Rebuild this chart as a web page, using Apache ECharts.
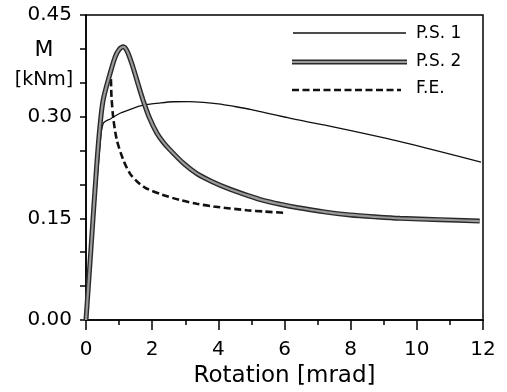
<!DOCTYPE html>
<html><head><meta charset="utf-8">
<script src="https://cdn.jsdelivr.net/npm/echarts@6/dist/echarts.min.js"></script>
<style>html,body{margin:0;padding:0;background:#fff}#c{width:507px;height:392px}</style>
</head><body><div id="c"></div>
<script>
const xTicks = [0, 2, 4, 6, 8, 10, 12];
const yTicks = [0.00, 0.15, 0.30, 0.45];
const seriesNames = ['P.S. 1', 'P.S. 2', 'F.E.'];
const ps1 = [[0,0],[0.2,0.123],[0.42,0.256],[0.52,0.290],[0.75,0.297],[1.03,0.305],[1.4,0.312],[1.73,0.317],[2.2,0.320],[2.64,0.322],[3.1,0.3222],[3.55,0.3212],[4.0,0.319],[4.5,0.315],[5.0,0.3105],[5.5,0.305],[6.0,0.2995],[6.37,0.2955],[7.47,0.285],[8.98,0.269],[10.5,0.251],[11.94,0.233]];
const ps2 = [[0,0],[0.15,0.105],[0.32,0.226],[0.42,0.285],[0.52,0.325],[0.73,0.364],[0.88,0.388],[1.0,0.399],[1.13,0.403],[1.25,0.396],[1.42,0.373],[1.58,0.347],[1.72,0.325],[1.92,0.298],[2.14,0.276],[2.34,0.262],[2.54,0.251],[2.95,0.231],[3.35,0.216],[3.8,0.2045],[4.35,0.193],[4.9,0.1835],[5.36,0.1765],[5.9,0.1705],[6.37,0.166],[7.2,0.1595],[7.98,0.155],[8.8,0.152],[9.49,0.150],[10.7,0.148],[11.9,0.146]];
const fe = [[0,0],[0.32,0.226],[0.52,0.325],[0.73,0.362],[0.77,0.330],[0.82,0.300],[0.93,0.266],[1.13,0.236],[1.33,0.216],[1.55,0.204],[1.83,0.194],[2.3,0.185],[2.84,0.177],[3.35,0.1715],[3.85,0.1675],[4.86,0.162],[5.4,0.160],[6.02,0.158]];

const chart = echarts.init(document.getElementById('c'), null, {renderer: 'canvas'});
const font = 'DejaVu Sans, sans-serif';
chart.setOption({
  animation: false,
  backgroundColor: '#fff',
  grid: {left: 86, right: 24, top: 15, bottom: 72, show: true, borderColor: '#000', borderWidth: 1.5, backgroundColor: 'transparent', containLabel: false, outerBoundsMode: 'none'},
  xAxis: {
    type: 'value', min: 0, max: 12, interval: 2,
    axisLine: {show: true, onZero: false, lineStyle: {color: '#000', width: 1.5}},
    axisTick: {show: true, inside: false, length: 10, lineStyle: {color: '#000', width: 1.5}},
    minorTick: {show: true, splitNumber: 2, length: 5, lineStyle: {color: '#000', width: 1.5}},
    splitLine: {show: false},
    axisLabel: {color: '#000', fontSize: 20, fontFamily: font, margin: 20,
      formatter: v => xTicks.includes(v) ? String(v) : ''},
    name: 'Rotation [mrad]', nameLocation: 'middle', nameGap: 45,
    nameTextStyle: {color: '#000', fontSize: 23, fontFamily: font, verticalAlign: 'top'}
  },
  yAxis: {
    type: 'value', min: 0, max: 0.45, interval: 0.15,
    axisLine: {show: true, onZero: false, lineStyle: {color: '#000', width: 1.5}},
    axisTick: {show: true, inside: false, length: 6, lineStyle: {color: '#000', width: 1.5}},
    minorTick: {show: true, splitNumber: 3, length: 6, lineStyle: {color: '#000', width: 1.5}},
    splitLine: {show: false},
    axisLabel: {color: '#000', fontSize: 20, fontFamily: font, margin: 14,
      formatter: v => { const t = yTicks.find(k => Math.abs(k - v) < 1e-9); return t === undefined ? '' : t.toFixed(2); }}
  },
  series: [
    {name: seriesNames[0], type: 'line', data: ps1, showSymbol: false, symbol: 'none', smooth: 0.3, z: 2,
      lineStyle: {color: '#111', width: 1.3}},
    {name: seriesNames[2], type: 'line', data: fe, showSymbol: false, symbol: 'none', smooth: 0.3, z: 3,
      lineStyle: {color: '#111', width: 2.6, type: [7, 3.5]}},
    {name: seriesNames[1], type: 'line', data: ps2, showSymbol: false, symbol: 'none', smooth: 0.3, z: 4,
      lineStyle: {color: '#2a2a2a', width: 5}},
    {name: seriesNames[1] + ' inner', type: 'line', data: ps2, showSymbol: false, symbol: 'none', smooth: 0.3, z: 5,
      lineStyle: {color: '#9a9a9a', width: 2.2}}
  ],
  graphic: [
    {type: 'text', x: 44, y: 50, style: {text: 'M', fontSize: 22, fontFamily: font, fill: '#000', align: 'center', verticalAlign: 'middle'}},
    {type: 'text', x: 44, y: 80, style: {text: '[kNm]', fontSize: 19, fontFamily: font, fill: '#000', align: 'center', verticalAlign: 'middle'}},
    {type: 'line', shape: {x1: 293, y1: 33, x2: 406, y2: 33}, style: {stroke: '#111', lineWidth: 1.3}},
    {type: 'line', shape: {x1: 292, y1: 62, x2: 407, y2: 62}, style: {stroke: '#2a2a2a', lineWidth: 5}},
    {type: 'line', shape: {x1: 292, y1: 62, x2: 407, y2: 62}, style: {stroke: '#9a9a9a', lineWidth: 2.2}},
    {type: 'line', shape: {x1: 292, y1: 90, x2: 401, y2: 90}, style: {stroke: '#111', lineWidth: 2.6, lineDash: [7, 3.5]}},
    {type: 'text', x: 416, y: 34, style: {text: seriesNames[0], fontSize: 17, fontFamily: font, fill: '#000', verticalAlign: 'middle'}},
    {type: 'text', x: 416, y: 62, style: {text: seriesNames[1], fontSize: 17, fontFamily: font, fill: '#000', verticalAlign: 'middle'}},
    {type: 'text', x: 416, y: 89, style: {text: seriesNames[2], fontSize: 17, fontFamily: font, fill: '#000', verticalAlign: 'middle'}}
  ]
});
</script></body></html>
